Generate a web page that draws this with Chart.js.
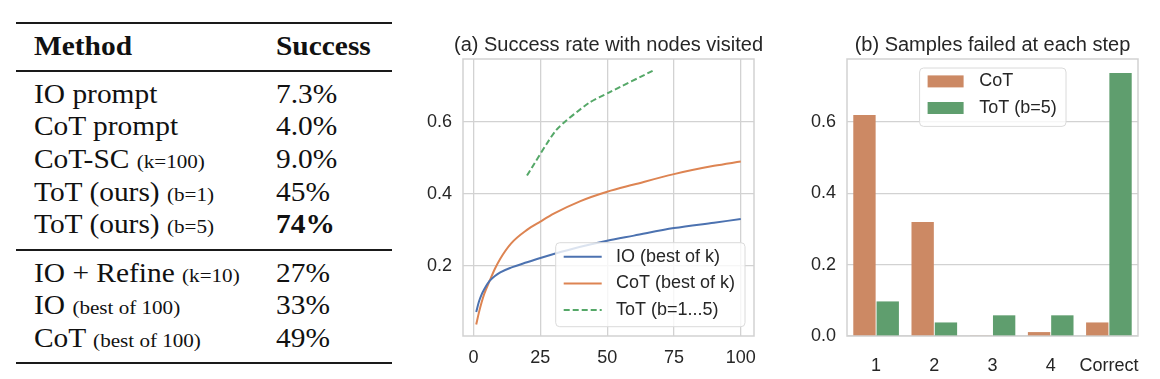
<!DOCTYPE html>
<html>
<head>
<meta charset="utf-8">
<script src="https://cdn.jsdelivr.net/npm/chart.js@4.4.1/dist/chart.umd.min.js"></script>
<style>
  html, body { margin: 0; padding: 0; background: #fff; }
  #wrap { position: relative; width: 1160px; height: 379px; overflow: hidden; }
  .rule { position: absolute; left: 16px; width: 376px; background: #1a1a1a; }
  .cell { position: absolute; font-family: 'Liberation Serif', 'Times New Roman', serif; font-size: 26.5px;
          line-height: 26.5px; white-space: nowrap; color: #111; transform: scaleX(1.11); transform-origin: 0 0; }
  .cell small { font-size: 19px; }
  canvas { position: absolute; top: 0; }
</style>
</head>
<body>
<div id="wrap">
  <div id="table"></div>
  <canvas id="nodesChart" width="380" height="379" style="left:400px"></canvas>
  <canvas id="stepsChart" width="380" height="379" style="left:780px"></canvas>
</div>
<script>
// table
const tableMethods = ['IO prompt', 'CoT prompt', 'CoT-SC', 'ToT (ours)', 'ToT (ours)', 'IO + Refine', 'IO', 'CoT'];
const tableNotes = ['', '', '(k=100)', '(b=1)', '(b=5)', '(k=10)', '(best of 100)', '(best of 100)'];
const tableSuccess = ['7.3%', '4.0%', '9.0%', '45%', '74%', '27%', '33%', '49%'];

// (a) success rate with nodes visited
const nodesVisited = [1, 2, 3, 4, 6, 8, 10, 14, 20, 25, 30, 40, 50, 60, 75, 90, 100];
const ioBestOfK = [0.072, 0.100, 0.120, 0.135, 0.158, 0.172, 0.182, 0.195, 0.210, 0.222, 0.233, 0.253, 0.270, 0.284, 0.305, 0.320, 0.330];
const cotBestOfK = [0.037, 0.070, 0.098, 0.122, 0.158, 0.192, 0.220, 0.262, 0.300, 0.323, 0.345, 0.380, 0.406, 0.426, 0.455, 0.478, 0.490];
const totNodes = [20, 31, 43, 51, 67];
const totSuccess = [0.451, 0.578, 0.652, 0.683, 0.742];
const nodeTicks = [0, 25, 50, 75, 100];
const rateTicks = [0.2, 0.4, 0.6];

// (b) samples failed at each step
const stepLabels = ['1', '2', '3', '4', 'Correct'];
const cotFailed = [0.62, 0.32, 0.002, 0.011, 0.038];
const totFailed = [0.097, 0.038, 0.058, 0.058, 0.738];
const failTicks = [0, 0.2, 0.4, 0.6];

// build the table as text
const tbl = document.getElementById('table');
const rules = [[22, 2], [70, 1.5], [249, 1.5], [362, 2]];
rules.forEach(([y, h]) => {
  const d = document.createElement('div');
  d.className = 'rule';
  d.style.top = y + 'px';
  d.style.height = h + 'px';
  tbl.appendChild(d);
});
function cell(x, baseline, html) {
  const d = document.createElement('div');
  d.className = 'cell';
  d.style.left = x + 'px';
  d.style.top = (baseline - 26.5 * 0.8375) + 'px';
  d.innerHTML = html;
  tbl.appendChild(d);
}
cell(34, 55, '<b>Method</b>');
cell(276, 55, '<b>Success</b>');
const rowBaselines = [102.7, 135.3, 168, 200.7, 233.3, 281.7, 314.3, 347];
tableMethods.forEach((m, i) => {
  cell(34, rowBaselines[i], m + (tableNotes[i] ? ' <small>' + tableNotes[i] + '</small>' : ''));
  cell(276, rowBaselines[i], i === 4 ? '<b>' + tableSuccess[i] + '</b>' : tableSuccess[i]);
});

Chart.defaults.font.family = '"Liberation Sans", Arial, sans-serif';
Chart.defaults.color = '#262626';
const gridColor = '#d2d2d2';

// spines + title
const frameTitle = {
  id: 'frameTitle',
  beforeDatasetsDraw(chart, args, opts) {
    const { ctx, chartArea: a } = chart;
    ctx.save();
    ctx.strokeStyle = gridColor;
    ctx.lineWidth = 1.5;
    ctx.strokeRect(a.left, a.top, a.right - a.left, a.bottom - a.top);
    ctx.restore();
  },
  afterDraw(chart, args, opts) {
    const { ctx, chartArea: a } = chart;
    ctx.save();
    ctx.font = '20px "Liberation Sans", Arial, sans-serif';
    ctx.fillStyle = '#262626';
    ctx.textAlign = 'center';
    ctx.textBaseline = 'middle';
    ctx.fillText(opts.text, (a.left + a.right) / 2, 45);
    ctx.restore();
  }
};

// legend drawn inside the axes, with a rounded frame
const boxLegend = {
  id: 'boxLegend',
  afterDatasetsDraw(chart, args, opts) {
    const { ctx, chartArea: a } = chart;
    const x = opts.right != null ? a.right - opts.right - opts.w : a.left + opts.left;
    const y = opts.bottom != null ? a.bottom - opts.bottom - opts.h : a.top + opts.top;
    ctx.save();
    ctx.beginPath();
    ctx.roundRect(x, y, opts.w, opts.h, 4);
    ctx.fillStyle = 'rgba(255,255,255,0.8)';
    ctx.fill();
    ctx.strokeStyle = '#dadada';
    ctx.lineWidth = 1;
    ctx.stroke();
    ctx.font = '18px "Liberation Sans", Arial, sans-serif';
    ctx.textBaseline = 'middle';
    chart.data.datasets.forEach((ds, i) => {
      const cy = y + opts.first + i * opts.gap;
      if (opts.kind === 'line') {
        ctx.strokeStyle = ds.borderColor;
        ctx.lineWidth = ds.borderWidth;
        ctx.setLineDash(ds.borderDash || []);
        ctx.beginPath();
        ctx.moveTo(x + 8, cy);
        ctx.lineTo(x + 46, cy);
        ctx.stroke();
        ctx.setLineDash([]);
      } else {
        ctx.fillStyle = ds.backgroundColor;
        ctx.fillRect(x + 8, cy - 6, 36, 12);
      }
      ctx.fillStyle = '#262626';
      ctx.fillText(ds.label, x + opts.textX, cy);
    });
    ctx.restore();
  }
};

const tickFont = { size: 18 };

new Chart(document.getElementById('nodesChart'), {
  type: 'line',
  data: {
    datasets: [{
      label: 'IO (best of k)',
      data: nodesVisited.map((x, i) => ({ x, y: ioBestOfK[i] })),
      borderColor: '#4C72B0',
      borderWidth: 2,
      pointRadius: 0,
      cubicInterpolationMode: 'monotone'
    }, {
      label: 'CoT (best of k)',
      data: nodesVisited.map((x, i) => ({ x, y: cotBestOfK[i] })),
      borderColor: '#DD8452',
      borderWidth: 2,
      pointRadius: 0,
      cubicInterpolationMode: 'monotone'
    }, {
      label: 'ToT (b=1...5)',
      data: totNodes.map((x, i) => ({ x, y: totSuccess[i] })),
      borderColor: '#55A868',
      borderWidth: 2,
      borderDash: [6, 3],
      pointRadius: 0,
      tension: 0.2
    }]
  },
  options: {
    responsive: false,
    animation: false,
    layout: { padding: { top: 59, right: 26, bottom: 0, left: 0 } },
    plugins: {
      legend: { display: false },
      tooltip: { enabled: false },
      frameTitle: { text: '(a) Success rate with nodes visited' },
      boxLegend: { kind: 'line', right: 9, bottom: 9.3, w: 189.3, h: 84, first: 14, gap: 26.7, textX: 60.3 }
    },
    scales: {
      x: {
        type: 'linear',
        min: -3.95,
        max: 104.95,
        afterBuildTicks: s => { s.ticks = nodeTicks.map(v => ({ value: v })); },
        afterFit: s => { s.height = 43; },
        grid: { color: gridColor, lineWidth: 1.3, drawTicks: false },
        border: { display: false },
        ticks: { font: tickFont, padding: 11, maxRotation: 0, autoSkip: false }
      },
      y: {
        min: 0.005,
        max: 0.775,
        afterBuildTicks: s => { s.ticks = rateTicks.map(v => ({ value: v })); },
        afterFit: s => { s.width = 63; },
        grid: { color: gridColor, lineWidth: 1.3, drawTicks: false },
        border: { display: false },
        ticks: { font: tickFont, padding: 11, callback: v => v.toFixed(1) }
      }
    }
  },
  plugins: [frameTitle, boxLegend]
});

new Chart(document.getElementById('stepsChart'), {
  type: 'bar',
  data: {
    labels: stepLabels,
    datasets: [{
      label: 'CoT',
      data: cotFailed,
      backgroundColor: '#CC8964',
      categoryPercentage: 0.8,
      barPercentage: 0.96
    }, {
      label: 'ToT (b=5)',
      data: totFailed,
      backgroundColor: '#5F9E6E',
      categoryPercentage: 0.8,
      barPercentage: 0.96
    }]
  },
  options: {
    responsive: false,
    animation: false,
    layout: { padding: { top: 59, right: 22, bottom: 0, left: 0 } },
    plugins: {
      legend: { display: false },
      tooltip: { enabled: false },
      frameTitle: { text: '(b) Samples failed at each step' },
      boxLegend: { kind: 'patch', left: 72.6, top: 9, w: 146.4, h: 58.4, first: 13.4, gap: 26.6, textX: 59.7 }
    },
    scales: {
      x: {
        afterFit: s => { s.height = 43; },
        grid: { display: false },
        border: { display: false },
        ticks: { font: tickFont, padding: 11, maxRotation: 0, autoSkip: false }
      },
      y: {
        min: 0,
        max: 0.777,
        afterBuildTicks: s => { s.ticks = failTicks.map(v => ({ value: v })); },
        afterFit: s => { s.width = 67; },
        grid: { color: gridColor, lineWidth: 1.3, drawTicks: false },
        border: { display: false },
        ticks: { font: tickFont, padding: 11, callback: v => v.toFixed(1) }
      }
    }
  },
  plugins: [frameTitle, boxLegend]
});
</script>
</body>
</html>
